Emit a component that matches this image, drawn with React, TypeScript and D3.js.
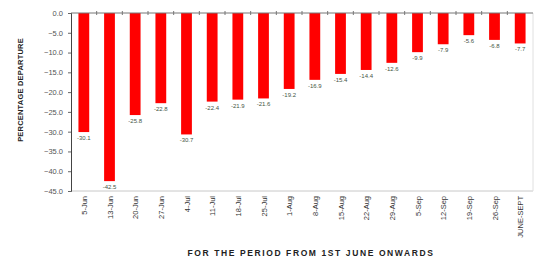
import { useEffect, useRef } from 'react';
import * as d3 from 'd3';

const periods = [
  '5-Jun', '13-Jun', '20-Jun', '27-Jun', '4-Jul', '11-Jul', '18-Jul', '25-Jul', '1-Aug',
  '8-Aug', '15-Aug', '22-Aug', '29-Aug', '5-Sep', '12-Sep', '19-Sep', '26-Sep', 'JUNE-SEPT',
];
const departure = [
  -30.1, -42.5, -25.8, -22.8, -30.7, -22.4, -21.9, -21.6, -19.2,
  -16.9, -15.4, -14.4, -12.6, -9.9, -7.9, -5.6, -6.8, -7.7,
];
const yTicks = [0, -5, -10, -15, -20, -25, -30, -35, -40, -45];

export default function App() {
  const ref = useRef<SVGSVGElement>(null);

  useEffect(() => {
    const svg = d3.select(ref.current);
    svg.selectAll('*').remove(); // clear previous chart

    const width = 534;
    const height = 261;
    const margin = { top: 13, right: 1, bottom: 70, left: 71 };
    const innerW = width - margin.left - margin.right;
    const innerH = height - margin.top - margin.bottom;
    const font = '"Liberation Sans", Arial, sans-serif';

    svg.attr('width', width).attr('height', height).style('font-family', font);

    const chart = svg.append('g').attr('transform', `translate(${margin.left}, ${margin.top})`);

    const x = d3.scaleBand().domain(periods).range([0, innerW]).paddingInner(0.58).paddingOuter(0.29);
    const y = d3.scaleLinear().domain([0, -45]).range([0, innerH]);
    const gap = (x.step() - x.bandwidth()) / 2;

    // plot frame (bottom and right)
    chart.append('line')
      .attr('x1', 0).attr('x2', innerW).attr('y1', innerH).attr('y2', innerH)
      .attr('stroke', '#c8c8c8');
    chart.append('line')
      .attr('x1', innerW).attr('x2', innerW).attr('y1', 0).attr('y2', innerH)
      .attr('stroke', '#e0e0e0');

    // bars
    chart.selectAll('rect.bar')
      .data(departure)
      .enter()
      .append('rect')
      .attr('class', 'bar')
      .attr('x', (_d, i) => x(periods[i])!)
      .attr('y', 0)
      .attr('width', x.bandwidth())
      .attr('height', (d) => y(d))
      .attr('fill', '#ff0000');

    // value labels
    chart.selectAll('text.val')
      .data(departure)
      .enter()
      .append('text')
      .attr('class', 'val')
      .attr('x', (_d, i) => x(periods[i])! + x.bandwidth() / 2)
      .attr('y', (d) => y(d) + 8)
      .attr('text-anchor', 'middle')
      .attr('font-size', 6)
      .attr('fill', '#445544')
      .text((d) => d.toFixed(1));

    // top axis with cross ticks at band boundaries
    chart.append('line')
      .attr('x1', 0).attr('x2', innerW).attr('y1', 0).attr('y2', 0)
      .attr('stroke', '#777');
    chart.selectAll('line.xt')
      .data(periods.slice(1))
      .enter()
      .append('line')
      .attr('class', 'xt')
      .attr('x1', (d) => x(d)! - gap)
      .attr('x2', (d) => x(d)! - gap)
      .attr('y1', -2).attr('y2', 2)
      .attr('stroke', '#777');

    // y axis
    const yAxis = chart.append('g')
      .call(d3.axisLeft(y).tickValues(yTicks).tickSize(3).tickPadding(5).tickFormat((d) => d3.format('.1f')(d as number)));
    yAxis.select('.domain').attr('stroke', '#444');
    yAxis.selectAll('.tick line').attr('stroke', '#666');
    yAxis.selectAll('text')
      .attr('font-size', 7.5)
      .attr('font-family', font)
      .attr('fill', '#555');

    // x labels, rotated
    chart.selectAll('text.xl')
      .data(periods)
      .enter()
      .append('text')
      .attr('class', 'xl')
      .attr('transform', (d) => `translate(${x(d)! + x.bandwidth() / 2 + 3}, ${innerH + 5}) rotate(-90)`)
      .attr('text-anchor', 'end')
      .attr('font-size', 7.5)
      .attr('fill', '#333')
      .text((d) => d);

    // axis titles
    svg.append('text')
      .attr('transform', `translate(23, 90) rotate(-90)`)
      .attr('text-anchor', 'middle')
      .attr('font-size', 7.5)
      .attr('font-weight', 'bold')
      .attr('letter-spacing', 0.2)
      .attr('fill', '#222')
      .text('PERCENTAGE DEPARTURE');

    svg.append('text')
      .attr('x', 311)
      .attr('y', 256)
      .attr('text-anchor', 'middle')
      .attr('font-size', 8.5)
      .attr('font-weight', 'bold')
      .attr('letter-spacing', 1.6)
      .attr('fill', '#222')
      .text('FOR THE PERIOD FROM 1ST JUNE ONWARDS');
  }, []);

  return (
    <div style={{ position: 'absolute', left: 0, top: 0 }}>
      <svg ref={ref}></svg>
    </div>
  );
}
